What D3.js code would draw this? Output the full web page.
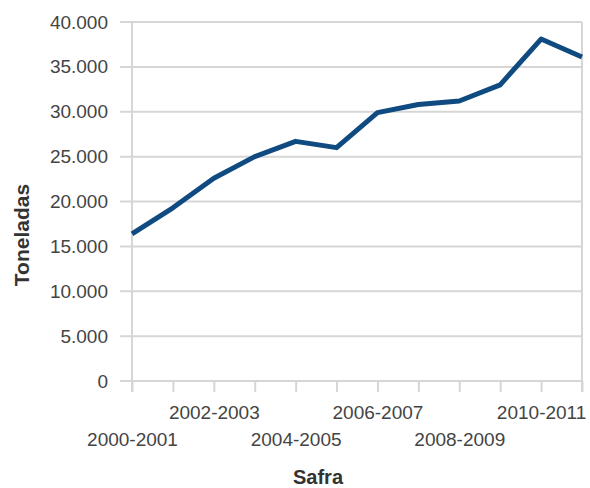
<!DOCTYPE html>
<html>
<head>
<meta charset="utf-8">
<script src="https://cdn.jsdelivr.net/npm/d3@7"></script>
<style>
  html, body { margin: 0; padding: 0; background: #fff; }
  svg { display: block; font-family: "Liberation Sans", Arial, sans-serif; }
</style>
</head>
<body>
<svg id="chart" width="590" height="488"></svg>
<script>
const categories = ["2000-2001","2001-2002","2002-2003","2003-2004","2004-2005","2005-2006",
                    "2006-2007","2007-2008","2008-2009","2009-2010","2010-2011","2011-2012"];
const values = [16400, 19300, 22600, 25000, 26700, 26000, 29900, 30800, 31200, 33000, 38100, 36100];
const yTicks = [0, 5000, 10000, 15000, 20000, 25000, 30000, 35000, 40000];
const yTitle = "Toneladas";
const xTitle = "Safra";

const svg = d3.select("#chart");
const pL = 132, pR = 582, pT = 22, pB = 381;

const x = d3.scalePoint().domain(categories).range([pL, pR]).padding(0);
const y = d3.scaleLinear().domain([0, 40000]).range([pB, pT]);

const loc = d3.formatLocale({decimal: ",", thousands: ".", grouping: [3], currency: ["", ""]});
const fmt = loc.format(",d");

// horizontal gridlines
svg.append("g").selectAll("line").data(yTicks).join("line")
  .attr("x1", pL - 12).attr("x2", pR)
  .attr("y1", d => y(d)).attr("y2", d => y(d))
  .attr("stroke", "#d6d6d6").attr("stroke-width", 2);

// right border
svg.append("line").attr("x1", pR).attr("x2", pR).attr("y1", pT).attr("y2", pB + 11)
  .attr("stroke", "#d6d6d6").attr("stroke-width", 2);

// y axis
const yAxis = svg.append("g").attr("transform", `translate(${pL},0)`)
  .call(d3.axisLeft(y).tickValues(yTicks).tickFormat(fmt).tickSize(0).tickPadding(24));
yAxis.select(".domain").remove();
yAxis.selectAll("text").attr("fill", "#444").style("font-size", "19px");

svg.append("line").attr("x1", pL).attr("x2", pL).attr("y1", pT).attr("y2", pB + 11)
  .attr("stroke", "#d6d6d6").attr("stroke-width", 2);

// x axis
const xAxis = svg.append("g").attr("transform", `translate(0,${pB})`)
  .call(d3.axisBottom(x).tickSize(11).tickFormat((d, i) => i % 2 === 0 ? d : ""));
xAxis.select(".domain").remove();
xAxis.selectAll(".tick line").attr("stroke", "#d6d6d6").attr("stroke-width", 2);
xAxis.selectAll(".tick text")
  .attr("fill", "#444").style("font-size", "19px")
  .attr("y", 0).attr("dy", 0)
  .attr("transform", (d, i) => `translate(0,${(i / 2) % 2 === 0 ? 65 : 38})`);

// line
svg.append("path").datum(values)
  .attr("fill", "none").attr("stroke", "#0f4a80").attr("stroke-width", 5)
  .attr("stroke-linejoin", "round")
  .attr("d", d3.line().x((d, i) => x(categories[i])).y(d => y(d)));

// titles
svg.append("text").attr("transform", "translate(29,235) rotate(-90)")
  .attr("text-anchor", "middle").attr("fill", "#333")
  .style("font-size", "21px").style("font-weight", "bold").text(yTitle);
svg.append("text").attr("x", 318).attr("y", 484)
  .attr("text-anchor", "middle").attr("fill", "#333")
  .style("font-size", "20px").style("font-weight", "bold").text(xTitle);
</script>
</body>
</html>
